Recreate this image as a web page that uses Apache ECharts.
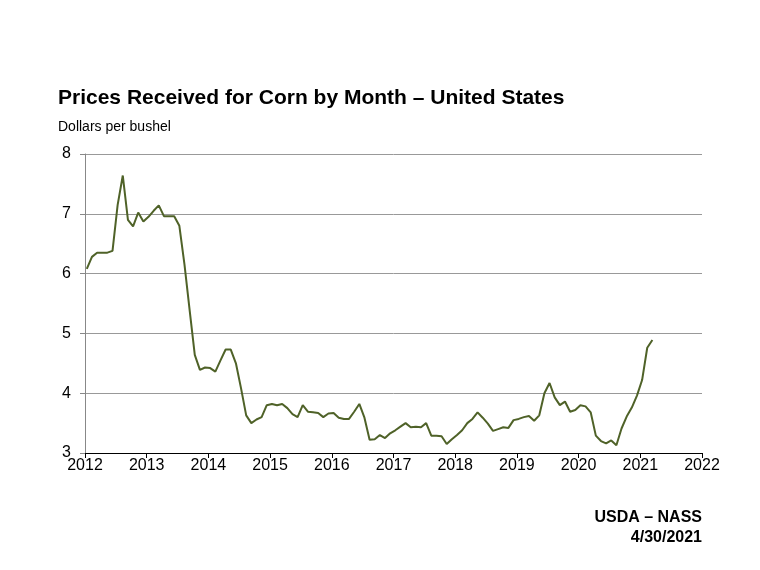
<!DOCTYPE html>
<html>
<head>
<meta charset="utf-8">
<script src="https://cdn.jsdelivr.net/npm/echarts@6/dist/echarts.min.js"></script>
<style>
  html, body { margin: 0; padding: 0; background: #fff; }
  #main { width: 760px; height: 570px; }
</style>
</head>
<body>
<div id="main"></div>
<script>
// monthly prices, Jan 2012 .. Mar 2021
var startYear = 2012;
var prices2012 = [6.08, 6.28, 6.35, 6.35, 6.35, 6.38, 7.15, 7.64, 6.90, 6.79, 7.02, 6.87];
var prices2013 = [6.95, 7.05, 7.14, 6.96, 6.96, 6.96, 6.80, 6.15, 5.39, 4.64, 4.39, 4.43];
var prices2014 = [4.42, 4.36, 4.55, 4.73, 4.73, 4.50, 4.08, 3.63, 3.50, 3.56, 3.60, 3.80];
var prices2015 = [3.82, 3.80, 3.82, 3.75, 3.65, 3.60, 3.80, 3.69, 3.68, 3.67, 3.60, 3.66];
var prices2016 = [3.67, 3.59, 3.57, 3.57, 3.69, 3.82, 3.59, 3.22, 3.23, 3.30, 3.25, 3.33];
var prices2017 = [3.38, 3.44, 3.50, 3.43, 3.44, 3.43, 3.50, 3.29, 3.29, 3.28, 3.15, 3.23];
var prices2018 = [3.30, 3.38, 3.50, 3.57, 3.68, 3.59, 3.49, 3.37, 3.40, 3.43, 3.42, 3.55];
var prices2019 = [3.57, 3.60, 3.62, 3.54, 3.63, 4.00, 4.17, 3.93, 3.80, 3.86, 3.69, 3.72];
var prices2020 = [3.80, 3.78, 3.68, 3.29, 3.20, 3.16, 3.21, 3.13, 3.41, 3.61, 3.76, 3.96];
var prices2021 = [4.22, 4.76, 4.89];

var yTicks = [3, 4, 5, 6, 7, 8];
var xYears = [2012, 2013, 2014, 2015, 2016, 2017, 2018, 2019, 2020, 2021, 2022];

var allPrices = [].concat(prices2012, prices2013, prices2014, prices2015, prices2016,
  prices2017, prices2018, prices2019, prices2020, prices2021);

// month i sits a little past the start of its month
var points = allPrices.map(function (v, i) {
  return [startYear + (i + 0.35) / 12, v];
});

var myChart = echarts.init(document.getElementById('main'));

var font = 'Arial, "Liberation Sans", sans-serif';

var option = {
  backgroundColor: '#fff',
  animation: false,
  title: [
    {
      text: 'Prices Received for Corn by Month \u2013 United States',
      left: 53, top: 83,
      textStyle: { fontFamily: font, fontSize: 21, fontWeight: 'bold', color: '#000' }
    },
    {
      text: 'Dollars per bushel',
      left: 53, top: 115,
      textStyle: { fontFamily: font, fontSize: 14, fontWeight: 'normal', color: '#000' }
    },
    {
      text: 'USDA \u2013 NASS',
      right: 53, top: 505,
      textStyle: { fontFamily: font, fontSize: 16, fontWeight: 'bold', color: '#000' }
    },
    {
      text: '4/30/2021',
      right: 53, top: 525,
      textStyle: { fontFamily: font, fontSize: 16, fontWeight: 'bold', color: '#000' }
    }
  ],
  grid: { left: 85, right: 58, top: 154, bottom: 117 },
  xAxis: {
    type: 'value',
    min: xYears[0],
    max: xYears[xYears.length - 1],
    interval: 1,
    axisLine: { show: true, lineStyle: { color: '#000', width: 1 } },
    axisTick: { show: true, length: 5, lineStyle: { color: '#000' } },
    splitLine: { show: false },
    axisLabel: {
      fontFamily: font, fontSize: 16, color: '#000', margin: 5,
      formatter: function (v) { return String(v); }
    }
  },
  yAxis: {
    type: 'value',
    min: yTicks[0],
    max: yTicks[yTicks.length - 1],
    interval: 1,
    axisLine: { show: true, lineStyle: { color: '#888', width: 1 } },
    axisTick: { show: true, length: 5, lineStyle: { color: '#888' } },
    splitLine: { show: true, lineStyle: { color: '#999', width: 1 } },
    axisLabel: { fontFamily: font, fontSize: 16, color: '#000', margin: 14 }
  },
  series: [
    {
      type: 'line',
      data: points,
      showSymbol: false,
      lineStyle: { color: '#4f6228', width: 2 },
      itemStyle: { color: '#4f6228' }
    }
  ]
};

myChart.setOption(option);
</script>
</body>
</html>
